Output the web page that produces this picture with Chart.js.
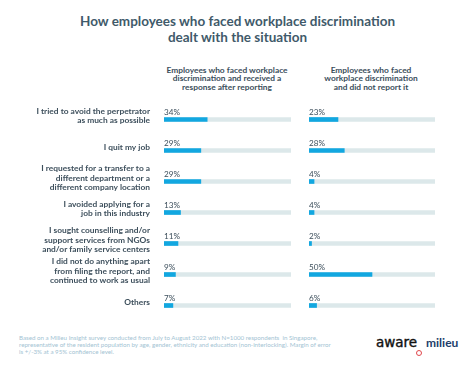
<!DOCTYPE html>
<html>
<head>
<meta charset="utf-8">
<script src="https://cdn.jsdelivr.net/npm/chart.js@4"></script>
<style>
  body { margin: 0; background: #fff; width: 475px; height: 366px; position: relative; overflow: hidden; font-family: Lato, sans-serif; }
  #title { position: absolute; top: 14px; left: 0; width: 475px; text-align: center; font-weight: bold; font-size: 13.5px; line-height: 15.5px; color: #3f5a6a; }
  .head { position: absolute; top: 65.5px; text-align: center; font-weight: bold; font-size: 8.4px; line-height: 8.8px; color: #3a4e5b; }
  #foot { position: absolute; top: 334px; left: 19px; white-space: nowrap; font-size: 6.2px; line-height: 7.1px; color: #a3c3d3; }
  .logo { position: absolute; white-space: nowrap; }
  canvas { position: absolute; }
</style>
</head>
<body>
<div id="title">How employees who faced workplace discrimination<br>dealt with the situation</div>
<div class="head" style="left:152px;width:150px">Employees who faced workplace<br>discrimination and received a<br>response after reporting</div>
<div class="head" style="left:306px;width:130px">Employees who faced<br>workplace discrimination<br>and did not report it</div>
<canvas id="left" width="291" height="217" style="left:0;top:104px"></canvas>
<canvas id="right" width="126" height="217" style="left:309px;top:104px"></canvas>
<div id="foot">Based on a Milieu Insight survey conducted from July to August 2022 with N=1000 respondents&nbsp; in Singapore,<br>representative of the resident population by age, gender, ethnicity and education (non-interlocking). Margin of error<br>is +/-3% at a 95% confidence level.</div>
<div class="logo" style="left:376px;top:334px;font-family:'DejaVu Sans';font-size:13.5px;color:#111;-webkit-text-stroke:0.4px #111">aware</div>
<div class="logo" style="left:416px;top:350px;width:4px;height:4px;border:1px solid #e0474c;border-radius:50%"></div>
<div class="logo" style="left:426px;top:335px;font-weight:bold;font-size:12px;color:#223e6a">milieu</div>
<script>
let categories = [
    ['I tried to avoid the perpetrator', 'as much as possible'],
    'I quit my job',
    ['I requested for a transfer to a', 'different department or a', 'different company location'],
    ['I avoided applying for a', 'job in this industry'],
    ['I sought counselling and/or', 'support services from NGOs', 'and/or family service centers'],
    ['I did not do anything apart', 'from filing the report, and', 'continued to work as usual'],
    'Others'
]
let reported = [34, 29, 29, 13, 11, 9, 7]
let notReported = [23, 28, 4, 4, 2, 50, 6]
let track = [100, 100, 100, 100, 100, 100, 100]

// percentage text above the start of each bar
let pctLabels = {
    id: 'pctLabels',
    afterDatasetsDraw: function (chart) {
        let ctx = chart.ctx
        let x0 = chart.scales.x.getPixelForValue(0)
        let meta = chart.getDatasetMeta(0)
        ctx.save()
        ctx.font = '8.2px Lato'
        ctx.fillStyle = '#3d4f5c'
        ctx.textAlign = 'left'
        ctx.textBaseline = 'bottom'
        meta.data.forEach(function (bar, i) {
            ctx.fillText(chart.data.datasets[0].data[i] + '%', x0, bar.y - 3)
        })
        ctx.restore()
    }
}

let makeChart = function (id, values, showLabels) {
    return new Chart(id, {
        type: 'bar',
        data: {
            labels: categories.slice(),
            datasets: [
                { data: values.slice(), backgroundColor: '#12a7e0', barThickness: 4, grouped: false },
                { data: track.slice(), backgroundColor: '#dce8ea', barThickness: 4, grouped: false }
            ]
        },
        options: {
            indexAxis: 'y',
            responsive: false,
            animation: false,
            layout: { padding: 0 },
            plugins: { legend: { display: false }, tooltip: { enabled: false } },
            scales: {
                x: { min: 0, max: 100, display: false },
                y: {
                    grid: { display: false, drawTicks: false },
                    border: { display: false },
                    afterFit: function (scale) {
                        scale.width = showLabels ? 164 : 0
                        scale.paddingTop = 0
                        scale.paddingBottom = 0
                    },
                    ticks: {
                        display: showLabels,
                        padding: 14,
                        labelOffset: -3.5,
                        color: '#3d4f5c',
                        font: { family: 'Lato', weight: 'bold', size: 8.4, lineHeight: 1.1 }
                    }
                }
            }
        },
        plugins: [pctLabels]
    })
}

makeChart('left', reported, true)
makeChart('right', notReported, false)
</script>
</body>
</html>
